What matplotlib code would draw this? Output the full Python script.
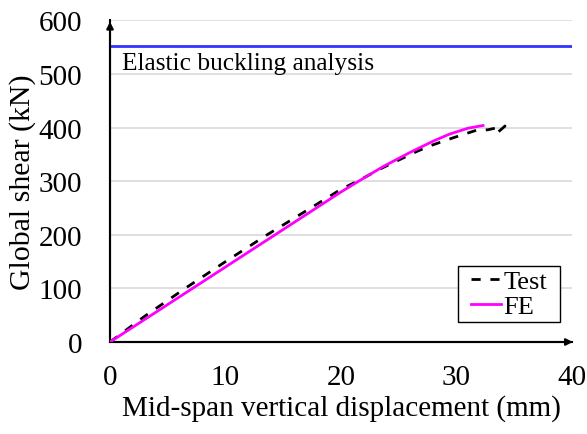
import numpy as np
import matplotlib.pyplot as plt
from matplotlib.patches import Rectangle

plt.rcParams['font.family'] = ['Liberation Serif', 'DejaVu Serif']

# test curve (displacement mm, shear kN)
test_x = [0, 3, 6.5, 10, 13.6, 17, 20, 21.6, 23.4, 26.5, 27.7, 29.7, 31.7, 32.7, 34.2, 33.2]
test_y = [0, 48, 100, 150, 200, 245, 285, 302, 323, 355, 366, 381, 395, 396, 403, 384]

# finite element curve
fe_x = [0, 10, 20, 21.6, 23.7, 26.0, 28.0, 29.4, 31.0, 32.3]
fe_y = [0, 140, 280, 301, 328, 354, 375, 388, 399, 404]

# elastic buckling load
buckling = 552

fig = plt.figure(figsize=(5.87, 4.35), dpi=100)
ax = fig.add_axes([0.1874, 0.2115, 0.7870, 0.7391])

ax.plot(test_x, test_y, color='black', lw=2.0, ls=(0, (3.3, 3.5)), label='Test', zorder=3)
ax.plot(fe_x, fe_y, color='#ff00ff', lw=2.0, label='FE', zorder=4)
ax.axhline(buckling, color='#3232ff', lw=2.0, zorder=3)
ax.text(1.0, buckling - 11, 'Elastic buckling analysis', fontsize=18.3, va='top', ha='left')

ax.set_xlim(0, 40)
ax.set_ylim(0, 600)
ax.set_xticks([0, 10, 20, 30, 40])
ax.set_yticks(range(0, 601, 100))
ax.tick_params(length=0, labelsize=21)
ax.tick_params(axis='x', pad=16)
ax.tick_params(axis='y', pad=20)
ax.yaxis.grid(True, color='#d9d9d9', lw=1.2)
ax.set_axisbelow(True)
for s in ['top', 'right']:
    ax.spines[s].set_visible(False)
ax.spines['left'].set_linewidth(1.5)
ax.spines['bottom'].set_linewidth(1.5)

# axis arrows
ax.annotate('', xy=(1.008, 0), xytext=(0, 0), xycoords='axes fraction',
            arrowprops=dict(arrowstyle='-|>', color='black', lw=1.5, mutation_scale=10),
            annotation_clip=False)
ax.annotate('', xy=(0, 1.005), xytext=(0, 0), xycoords='axes fraction',
            arrowprops=dict(arrowstyle='-|>', color='black', lw=1.5, mutation_scale=10),
            annotation_clip=False)

ax.set_xlabel('Mid-span vertical displacement (mm)', fontsize=21, labelpad=3)
ax.set_ylabel('Global shear (kN)', fontsize=21.5, labelpad=2)

# legend with its own box
box = Rectangle((0.753, 0.062), 0.221, 0.175, transform=ax.transAxes,
                facecolor='white', edgecolor='black', lw=1.0, zorder=5)
ax.add_patch(box)
leg = ax.legend(loc='center', bbox_to_anchor=(0.8635, 0.1495), fontsize=19,
                frameon=False, handlelength=1.15, handletextpad=0.1,
                borderpad=0, labelspacing=0.05, borderaxespad=0)
leg.set_zorder(6)

fig.savefig('out.png', dpi=100)
